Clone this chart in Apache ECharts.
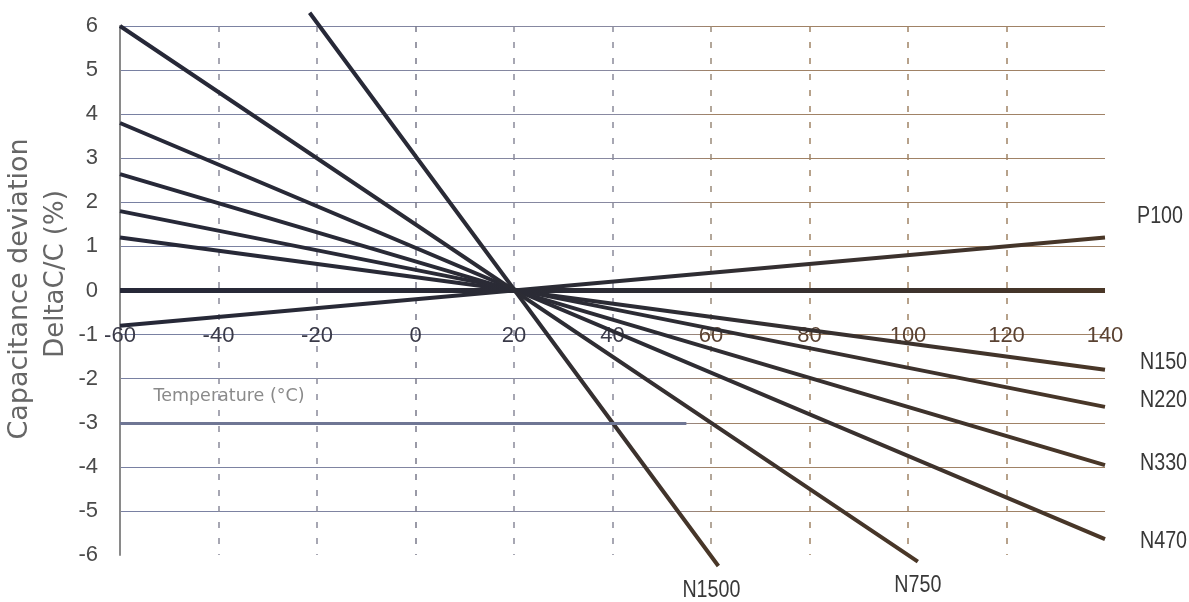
<!DOCTYPE html>
<html>
<head>
<meta charset="utf-8">
<script src="https://cdn.jsdelivr.net/npm/echarts@6/dist/echarts.min.js"></script>
<style>
html,body{margin:0;padding:0;background:#fff;}
#c{width:1189px;height:602px;}
</style>
</head>
<body>
<div id="c"></div>
<script>
// Temperature ticks (°C) and deviation ticks (%)
const xTicks = [-60, -40, -20, 0, 20, 40, 60, 80, 100, 120, 140];
const yTicks = [-6, -5, -4, -3, -2, -1, 0, 1, 2, 3, 4, 5, 6];

// Series names and end points [temperature, deltaC/C %]
const seriesNames = ['P100', 'NP0', 'N150', 'N220', 'N330', 'N470', 'N750', 'N1500'];
const P100  = [[-60, -0.8], [140, 1.2]];
const NP0   = [[-60, 0], [140, 0]];
const N150  = [[-60, 1.2], [140, -1.8]];
const N220  = [[-60, 1.8], [140, -2.64]];
const N330  = [[-60, 2.64], [140, -3.96]];
const N470  = [[-60, 3.8], [140, -5.64]];
const N750  = [[-60, 6.0], [102, -6.15]];
const N1500 = [[-21.5, 6.3], [61.5, -6.25]];

const seriesData = [P100, NP0, N150, N220, N330, N470, N750, N1500];

// label placement relative to each line's end (pixels) – style, not data
const labelShow = [true, false, true, true, true, true, true, true];
const labelAlign = ['left', 'left', 'left', 'left', 'left', 'left', 'center', 'center'];
const labelDelta = [[32, -21], [0, 0], [35, -7], [35, -7], [35, -1.5], [35, 2.5], [0, 24], [-7, 24.5]];

const FONT = "'Liberation Sans', Arial, sans-serif";

const lineGrad = {
  type: 'linear', x: 0, y: 0, x2: 1, y2: 0,
  colorStops: [
    {offset: 0, color: '#262838'},
    {offset: 0.55, color: '#2c2c34'},
    {offset: 1, color: '#4a3727'}
  ]
};
const gridGrad = {
  type: 'linear', x: 0, y: 0, x2: 1, y2: 0,
  colorStops: [
    {offset: 0, color: '#7880a2'},
    {offset: 0.55, color: '#8a8aa0'},
    {offset: 0.6, color: '#a08266'},
    {offset: 1, color: '#a08266'}
  ]
};

const chart = echarts.init(document.getElementById('c'), null, {renderer: 'canvas'});

const series = seriesNames.map((name, i) => ({
  name: name,
  type: 'line',
  data: seriesData[i],
  showSymbol: false,
  symbol: 'none',
  clip: false,
  silent: true,
  lineStyle: {color: lineGrad, width: name === 'NP0' ? 5 : 4},
  itemStyle: {color: '#2c2c34'},
  z: 3
}));

// thicker -3 gridline on the left part
series.push({
  type: 'line',
  data: [],
  silent: true,
  markLine: {
    silent: true,
    symbol: 'none',
    label: {show: false},
    lineStyle: {color: '#6f7694', width: 3, type: 'solid'},
    data: [[{coord: [-60, -3]}, {coord: [55, -3]}]]
  },
  z: 1
});

chart.setOption({
  animation: false,
  backgroundColor: '#ffffff',
  grid: {left: 120, right: 84, top: 26, bottom: 47, containLabel: false},
  xAxis: {
    type: 'value',
    min: xTicks[0],
    max: xTicks[xTicks.length - 1],
    interval: 20,
    axisLine: {show: false, onZero: false},
    axisTick: {show: false},
    axisLabel: {
      margin: -230,
      fontSize: 22,
      fontFamily: FONT,
      color: function (v) { return v >= 50 ? '#5a4232' : '#3a3a48'; },
      formatter: function (v) { return xTicks.indexOf(v) >= 0 ? String(v) : ''; },
      showMinLabel: true,
      showMaxLabel: true
    },
    splitLine: {
      show: true,
      lineStyle: {
        type: [6, 10],
        width: 1.5,
        color: ['transparent', '#8a8a9a', '#8a8a9a', '#7a7a8a', '#8a8a9a', '#8a8a9a', '#9a8a7a', '#a08466', '#a08466', '#a08466', 'transparent']
      }
    }
  },
  yAxis: {
    type: 'value',
    min: yTicks[0],
    max: yTicks[yTicks.length - 1],
    interval: 1,
    axisLine: {show: true, onZero: false, lineStyle: {color: '#8a8a8a', width: 2}},
    axisTick: {show: false},
    axisLabel: {
      margin: 22,
      fontSize: 22,
      fontFamily: FONT,
      color: '#4a4a4a',
      formatter: function (v) { return String(v); }
    },
    splitLine: {
      show: true,
      lineStyle: {
        width: 1.2,
        color: ['transparent', gridGrad, gridGrad, gridGrad, gridGrad, gridGrad, gridGrad, gridGrad, gridGrad, gridGrad, gridGrad, gridGrad, gridGrad]
      }
    }
  },
  series: series
});

// Titles and line labels (labels anchored to line ends through the chart's own scales)
const graphics = [
  {
    type: 'text', x: 20, y: 289, rotation: Math.PI / 2,
    style: {text: 'Capacitance deviation', fontSize: 27, fontFamily: 'DejaVu Sans, sans-serif', fill: '#666', align: 'center', verticalAlign: 'middle'}
  },
  {
    type: 'text', x: 56, y: 274, rotation: Math.PI / 2,
    style: {text: 'DeltaC/C (%)', fontSize: 26, fontFamily: 'DejaVu Sans, sans-serif', fill: '#666', align: 'center', verticalAlign: 'middle'}
  },
  {
    type: 'text', x: 229, y: 396,
    style: {text: 'Temperature (°C)', fontSize: 17.5, fontFamily: 'DejaVu Sans, sans-serif', fill: '#8a8a8a', align: 'center', verticalAlign: 'middle'}
  }
];
seriesNames.forEach((name, i) => {
  if (!labelShow[i]) return;
  const d = seriesData[i];
  const end = chart.convertToPixel({gridIndex: 0}, d[d.length - 1]);
  graphics.push({
    type: 'text',
    x: end[0] + labelDelta[i][0],
    y: end[1] + labelDelta[i][1],
    scaleX: 0.82,
    silent: true,
    style: {text: name, fontSize: 24, fontFamily: FONT, fill: '#383838', align: labelAlign[i], verticalAlign: 'middle'}
  });
});
chart.setOption({graphic: graphics});
</script>
</body>
</html>
